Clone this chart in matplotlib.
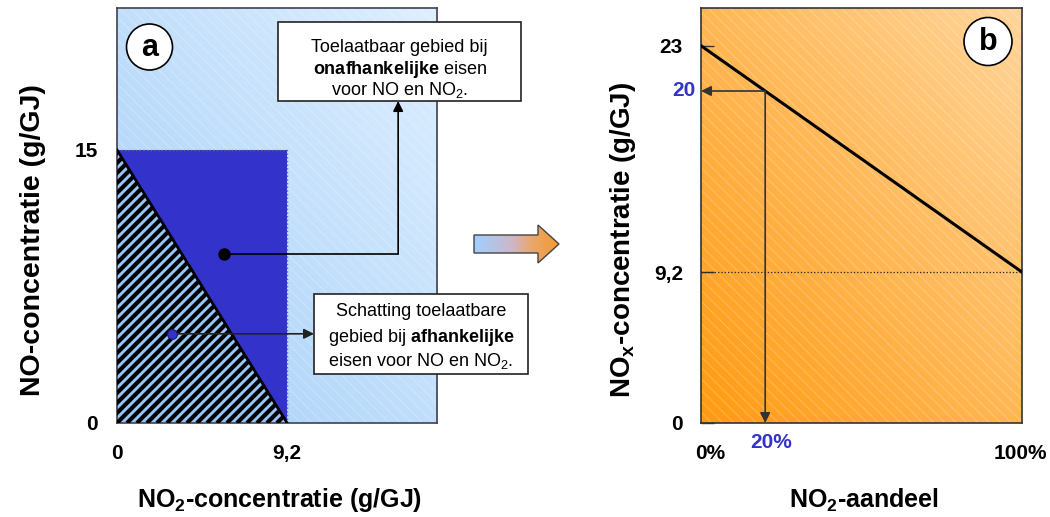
import numpy as np
import matplotlib
matplotlib.use('Agg')
import matplotlib.pyplot as plt
from matplotlib.patches import Polygon, Rectangle, Ellipse
from matplotlib.collections import LineCollection
from matplotlib.colors import LinearSegmentedColormap, to_rgb

plt.rcParams['font.family'] = ['Liberation Sans', 'DejaVu Sans']
plt.rcParams['mathtext.fontset'] = 'custom'
plt.rcParams['mathtext.rm'] = 'Liberation Sans'
plt.rcParams['mathtext.bf'] = 'Liberation Sans:bold'
plt.rcParams['mathtext.it'] = 'Liberation Sans:italic'
plt.rcParams['hatch.linewidth'] = 0.8

# ---------------- data ----------------
# panel a: NO vs NO2 concentration limits
no2_limit = 9.2          # g/GJ
no_limit = 15.0          # g/GJ
a_xticks = [0, 9.2]
a_xticklabels = ['0', '9,2']
a_yticks = [0, 15]
a_yticklabels = ['0', '15']
a_xlim = (0, 17.3)
a_ylim = (0, 22.8)

# panel b: NOx limit as function of NO2 share
no2_share = [0, 100]          # %
nox_limit = [23, 9.2]         # g/GJ
b_yticks = [0, 9.2, 23]
b_yticklabels = ['0', '9,2', '23']
b_xticks = [0, 100]
b_xticklabels = ['0%', '100%']
example_share = 20            # %
b_xlim = (0, 100)
b_ylim = (0, 25.3)

# annotation anchors (data coords of panel a)
indep_dot = (5.8, 9.3)
indep_elbow_x = 15.2
indep_box_y = 17.69
dep_dot = (3.0, 4.9)
dep_box_x = 10.65

W, H = 1050, 517
fig = plt.figure(figsize=(W / 100, H / 100), dpi=100)


def rect_px(l, t, r, b):
    return [l / W, 1 - b / H, (r - l) / W, (b - t) / H]


def gradient(ax, c0, c1, zorder=0):
    n = 300
    u = np.linspace(0, 1, n)
    U, V = np.meshgrid(u, u)
    t = (U + V) / 2
    c0 = np.array(to_rgb(c0)); c1 = np.array(to_rgb(c1))
    img = c0 + t[..., None] * (c1 - c0)
    ax.imshow(img, extent=[0, 1, 0, 1], transform=ax.transAxes, origin='lower',
              aspect='auto', zorder=zorder, interpolation='bilinear')
    ax.add_patch(Rectangle((0, 0), 1, 1, transform=ax.transAxes, fill=False,
                           hatch='\\\\\\', edgecolor='white', lw=0, alpha=0.22,
                           zorder=zorder + 0.1))


BOLD = dict(fontsize=15, fontweight='bold')
BLUE = '#3333cc'

# ---------------- panel a ----------------
ax_a = fig.add_axes(rect_px(117, 8, 437, 423))
gradient(ax_a, '#a4cef8', '#deefff')
ax_a.set_xlim(*a_xlim)
ax_a.set_ylim(*a_ylim)

# dependent region (hatched triangle)
tri_dep = Polygon([(0, 0), (0, no_limit), (no2_limit, 0)], closed=True,
                  facecolor='#94c6f6', edgecolor='none', zorder=2)
ax_a.add_patch(tri_dep)
px_x = 320 / (a_xlim[1] - a_xlim[0])
px_y = 415 / (a_ylim[1] - a_ylim[0])
spacing = 10.0 / px_x
segs = []
for c in np.arange(-no_limit * px_y / px_x - 2, no2_limit + 2, spacing):
    x0, x1 = c, c + 30
    segs.append([(x0, 0), (x1, (x1 - x0) * px_x / px_y)])
lc = LineCollection(segs, colors='black', linewidths=3.0, zorder=3)
lc.set_clip_path(tri_dep)
ax_a.add_collection(lc)

# independent region (blue triangle)
ax_a.add_patch(Polygon([(0, no_limit), (no2_limit, no_limit), (no2_limit, 0)],
                       closed=True, facecolor=BLUE, edgecolor='none', zorder=2))
ax_a.plot([0, no2_limit, no2_limit], [no_limit, no_limit, 0], ls=':', lw=1,
          color='#666688', zorder=4)
ax_a.plot([0, no2_limit], [no_limit, 0], color='black', lw=2, zorder=4)

# connector arrows
ax_a.plot([indep_dot[0], indep_elbow_x], [indep_dot[1], indep_dot[1]],
          color='black', lw=1.2, zorder=5)
ax_a.annotate('', xy=(indep_elbow_x, indep_box_y), xytext=(indep_elbow_x, indep_dot[1]),
              arrowprops=dict(arrowstyle='-|>,head_length=0.5,head_width=0.25',
                              mutation_scale=12, color='black', lw=1.2,
                              shrinkA=0, shrinkB=0), zorder=5)
ax_a.plot(*indep_dot, 'o', color='black', ms=8, zorder=6)
ax_a.annotate('', xy=(dep_box_x, dep_dot[1]), xytext=dep_dot,
              arrowprops=dict(arrowstyle='-|>,head_length=0.5,head_width=0.25',
                              mutation_scale=12, color='#222222', lw=1.2,
                              shrinkA=0, shrinkB=0), zorder=5)
ax_a.plot(*dep_dot, 'o', color=BLUE, mec='#1a1a66', ms=7, mew=0.8, zorder=6)

ax_a.set_xticks(a_xticks, a_xticklabels, **BOLD)
ax_a.set_yticks(a_yticks, a_yticklabels, **BOLD)
ax_a.tick_params(length=0)
ax_a.tick_params(axis='y', pad=14)
ax_a.tick_params(axis='x', pad=15)
for s in ax_a.spines.values():
    s.set_color('#404050'); s.set_linewidth(1.2)

# ---------------- panel b ----------------
ax_b = fig.add_axes(rect_px(701, 8, 1022, 423))
gradient(ax_b, '#ff9a10', '#ffd59a')
ax_b.set_xlim(*b_xlim)
ax_b.set_ylim(*b_ylim)
ax_b.plot(no2_share, nox_limit, color='black', lw=2.2, zorder=4)
ax_b.plot(b_xlim, [nox_limit[-1]] * 2, ls=':', color='#222222', lw=0.9, zorder=3)

y_ex = float(np.interp(example_share, no2_share, nox_limit))
arr = dict(arrowstyle='-|>,head_length=0.5,head_width=0.25', mutation_scale=12,
           color='#333333', lw=1.2, shrinkA=0, shrinkB=0)
ax_b.annotate('', xy=(example_share, 0), xytext=(example_share, y_ex),
              arrowprops=arr, zorder=5)
ax_b.annotate('', xy=(0, y_ex), xytext=(example_share, y_ex),
              arrowprops=arr, zorder=5)

ax_b.set_yticks(b_yticks, b_yticklabels, **BOLD)
ax_b.tick_params(axis='y', direction='in', length=9, width=1, pad=13, color='#333333')
ax_b.set_xticks(b_xticks, [''] * len(b_xticks))
ax_b.tick_params(axis='x', length=0)
for x, lab, dx in zip(b_xticks, b_xticklabels, [6.5, -1.5]):
    ax_b.annotate(lab, xy=(x, 0), xycoords=('data', 'axes fraction'),
                  xytext=(dx, -15), textcoords='offset points',
                  ha='center', va='top', **BOLD)
ax_b.annotate(f'{example_share}%', xy=(example_share, 0),
              xycoords=('data', 'axes fraction'), xytext=(4.5, -7),
              textcoords='offset points', ha='center', va='top',
              color=BLUE, **BOLD)
ax_b.annotate(f'{example_share}', xy=(0, y_ex), xytext=(-4, 0),
              textcoords='offset points', ha='right', va='center',
              color=BLUE, **BOLD)
for s in ax_b.spines.values():
    s.set_color('#333333'); s.set_linewidth(1.2)

# ---------------- axis labels ----------------
fig.text(33 / W, 1 - 240 / H, 'NO-concentratie (g/GJ)', rotation=90,
         ha='center', va='center', fontsize=20.5, fontweight='bold')
fig.text(623 / W, 1 - 240 / H, r'NO$_\mathbf{x}$-concentratie (g/GJ)', rotation=90,
         ha='center', va='center', fontsize=20, fontweight='bold')
fig.text(280 / W, 1 - 500 / H, r'NO$_\mathbf{2}$-concentratie (g/GJ)',
         ha='center', va='center', fontsize=18, fontweight='bold')
fig.text(864 / W, 1 - 500 / H, r'NO$_\mathbf{2}$-aandeel',
         ha='center', va='center', fontsize=18, fontweight='bold')

# ---------------- overlay (boxes, circles, middle arrow) ----------------
ov = fig.add_axes([0, 0, 1, 1], zorder=10)
ov.set_autoscale_on(False)
ov.set_xlim(0, W)
ov.set_ylim(H, 0)
ov.axis('off')

# middle gradient arrow
arrow_poly = Polygon([(474, 235), (538, 235), (538, 225), (559, 244), (538, 263),
                      (538, 253), (474, 253)], closed=True, facecolor='none',
                     edgecolor='#444444', lw=1, zorder=3)
ov.add_patch(arrow_poly)
cmap = LinearSegmentedColormap.from_list('ba', [(0, '#a0d0ff'), (0.45, '#cdb6c8'),
                                               (0.65, '#e8a874'), (1, '#f59a30')])
grad = np.linspace(0, 1, 200)[None, :]
im = ov.imshow(grad, cmap=cmap, extent=[474, 559, 263, 225], aspect='auto', zorder=2)
im.set_clip_path(arrow_poly)
ov.set_xlim(0, W)
ov.set_ylim(H, 0)

# text boxes
ov.add_patch(Rectangle((278, 22), 243, 79, facecolor='white', edgecolor='#222222',
                       lw=1.2, zorder=3))
box1_lines = ['Toelaatbaar gebied bij', r'$\mathbf{onafhankelijke}$ eisen',
              r'voor NO en NO$_2$.']
for y, line in zip([48, 69, 90], box1_lines):
    ov.text(399.5, y, line, ha='center', va='center', fontsize=13, zorder=4)

ov.add_patch(Rectangle((314, 294), 214, 80, facecolor='white', edgecolor='#222222',
                       lw=1.2, zorder=3))
box2_lines = ['Schatting toelaatbare', r'gebied bij $\mathbf{afhankelijke}$',
              r'eisen voor NO en NO$_2$.']
for y, line in zip([312, 337, 361], box2_lines):
    ov.text(421, y, line, ha='center', va='center', fontsize=13, zorder=4)

# panel letters
for (cx, cy, r, lab) in [(149.5, 47, 23, 'a'), (988, 41.5, 24, 'b')]:
    ov.add_patch(Ellipse((cx, cy), 2 * r, 2 * r, facecolor='white',
                         edgecolor='black', lw=1.2, zorder=3))
    ov.text(cx, cy + 1, lab, ha='center', va='center', fontsize=22,
            fontweight='bold', zorder=4)

fig.savefig('out.png', dpi=100)
